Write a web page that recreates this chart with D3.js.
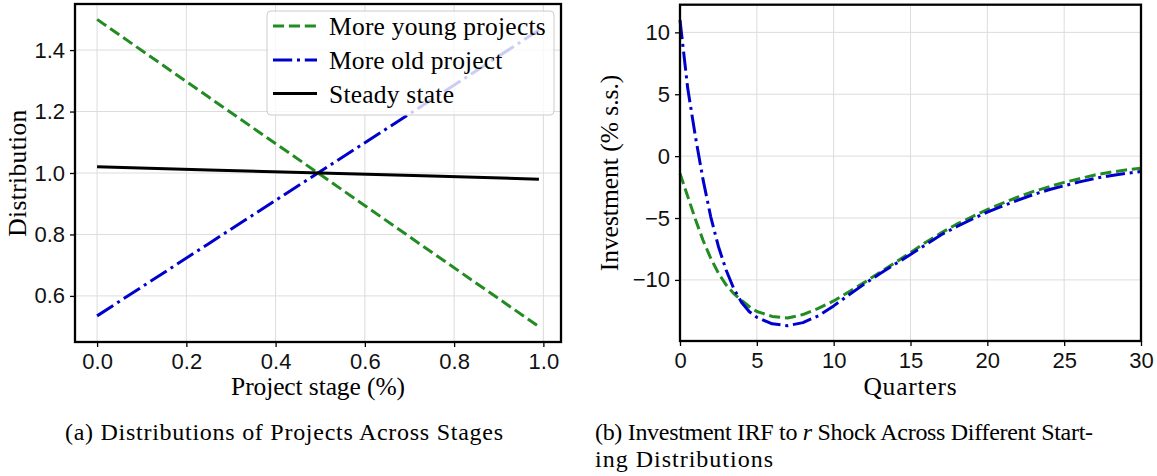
<!DOCTYPE html>
<html><head><meta charset="utf-8">
<script src="https://cdn.jsdelivr.net/npm/d3@7"></script>
<style>body{margin:0;background:#fff}svg{display:block}</style>
</head><body>
<svg id="c" width="1157" height="476"></svg>
<script>
// ---------- data ----------
const stageX = [0.0, 0.25, 0.5, 0.75, 0.99];
const youngDist = [1.50, 1.247, 0.995, 0.742, 0.50];
const oldDist = [0.535, 0.770, 1.005, 1.239, 1.465];
const steadyDist = [1.020, 1.010, 1.000, 0.990, 0.980];

const quarters = [0,0.5,1,1.5,2,2.5,3,3.5,4,4.5,5,6,7,8,9,10,11,12,13,14,15,16,17,18,19,20,21,22,23,24,25,26,27,28,29,30];
const irfYoung = [-1.4,-3.25,-5.1,-6.8,-8.25,-9.45,-10.4,-11.1,-11.65,-12.15,-12.55,
  -12.95,-13.08,-12.8,-12.3,-11.7,-10.95,-10.2,-9.4,-8.6,-7.8,-6.95,-6.2,-5.5,-4.9,-4.32,-3.8,-3.3,-2.85,-2.48,-2.12,-1.82,-1.52,-1.3,-1.12,-0.97];
const irfOld = [11.0,5.5,1.6,-1.9,-4.9,-7.3,-9.2,-10.7,-11.8,-12.55,-13.02,
  -13.55,-13.7,-13.45,-12.9,-12.1,-11.2,-10.33,-9.5,-8.72,-7.95,-7.15,-6.35,-5.7,-5.1,-4.53,-4.02,-3.55,-3.1,-2.72,-2.39,-2.08,-1.8,-1.58,-1.4,-1.24];

const xTicksA = [0, 0.2, 0.4, 0.6, 0.8, 1.0];
const yTicksA = [0.6, 0.8, 1.0, 1.2, 1.4];
const xTicksB = [0, 5, 10, 15, 20, 25, 30];
const yTicksB = [-10, -5, 0, 5, 10];
const legendLabels = ["More young projects", "More old project", "Steady state"];
const seriesColors = ["#228b22", "#0000cd", "#000000"];

// ---------- styles ----------
const LW = 3;
const dashStyles = [`${3.7*LW},${1.6*LW}`, `${6.4*LW},${1.6*LW},${1*LW},${1.6*LW}`, null];
const SANS = "'Liberation Sans', Arial, sans-serif";
const SERIF = "'Liberation Serif', 'Times New Roman', serif";
const SERIF_SIZE = 25.5;
const CAP_SIZE = 24;

const svg = d3.select("#c");

function pad(ext, f) { const s = ext[1]-ext[0]; return [ext[0]-s*f, ext[1]+s*f]; }
function fitWidth(t, target) {
  const n = t.text().length;
  const w = t.node().getComputedTextLength();
  if (n > 1) t.attr("letter-spacing", ((target - w) / (n - 1)).toFixed(3));
}

function panel(box, xs, ys, xTicks, yTicks, xFmt, yFmt) {
  const g = svg.append("g");
  g.append("g").selectAll("line").data(xTicks).join("line")
    .attr("x1", d => xs(d)).attr("x2", d => xs(d)).attr("y1", box.t).attr("y2", box.b)
    .attr("stroke", "#dcdcdc").attr("stroke-width", 1);
  g.append("g").selectAll("line").data(yTicks).join("line")
    .attr("y1", d => ys(d)).attr("y2", d => ys(d)).attr("x1", box.l).attr("x2", box.r)
    .attr("stroke", "#dcdcdc").attr("stroke-width", 1);
  const ax = g.append("g").attr("transform", `translate(0,${box.b})`)
    .call(d3.axisBottom(xs).tickValues(xTicks).tickFormat(xFmt).tickSize(5).tickPadding(6).tickSizeOuter(0));
  const ay = g.append("g").attr("transform", `translate(${box.l},0)`)
    .call(d3.axisLeft(ys).tickValues(yTicks).tickFormat(yFmt).tickSize(5).tickPadding(5).tickSizeOuter(0));
  [ax, ay].forEach(a => {
    a.select(".domain").remove();
    a.selectAll("line").attr("stroke", "#000").attr("stroke-width", 1.3);
    a.selectAll("text").attr("font-family", SANS).attr("font-size", 22).attr("fill", "#111");
  });
  return g;
}

function frame(box) {
  svg.append("rect").attr("x", box.l).attr("y", box.t).attr("width", box.r-box.l).attr("height", box.b-box.t)
    .attr("fill", "none").attr("stroke", "#000").attr("stroke-width", 2.3);
}

function drawLine(g, xs, ys, X, Y, i) {
  const line = d3.line().x((d, k) => xs(X[k])).y(d => ys(d));
  g.append("path").datum(Y).attr("d", line).attr("fill", "none")
    .attr("stroke", seriesColors[i]).attr("stroke-width", LW)
    .attr("stroke-dasharray", dashStyles[i]).attr("stroke-linejoin", "round");
}

// ---------- panel A ----------
const boxA = {l: 75, r: 561, t: 4, b: 342};
const xA = d3.scaleLinear(pad(d3.extent(stageX), 0.05), [boxA.l, boxA.r]);
const yA = d3.scaleLinear(pad(d3.extent([...youngDist, ...oldDist, ...steadyDist]), 0.05), [boxA.b, boxA.t]);
const gA = panel(boxA, xA, yA, xTicksA, yTicksA, d3.format(".1f"), d3.format(".1f"));
drawLine(gA, xA, yA, stageX, youngDist, 0);
drawLine(gA, xA, yA, stageX, oldDist, 1);
drawLine(gA, xA, yA, stageX, steadyDist, 2);
frame(boxA);

// legend
const lg = svg.append("g");
lg.append("rect").attr("x", 267).attr("y", 11).attr("width", 287).attr("height", 104).attr("rx", 4)
  .attr("fill", "#fff").attr("fill-opacity", 0.8).attr("stroke", "#cccccc").attr("stroke-width", 1);
const rowY = [26, 60, 93.5];
const legW = [216.7, 173.3, 125];
legendLabels.forEach((lab, i) => {
  lg.append("line").attr("x1", 273).attr("x2", 317).attr("y1", rowY[i]).attr("y2", rowY[i])
    .attr("stroke", seriesColors[i]).attr("stroke-width", LW).attr("stroke-dasharray", dashStyles[i]);
  const t = lg.append("text").attr("x", 329).attr("y", rowY[i] + 9).text(lab)
    .attr("font-family", SERIF).attr("font-size", SERIF_SIZE).attr("fill", "#000");
  fitWidth(t, legW[i]);
});

// ---------- panel B ----------
const boxB = {l: 680, r: 1141, t: 4.7, b: 341};
const xB = d3.scaleLinear([0, 30], [boxB.l, boxB.r]);
const yB = d3.scaleLinear(pad(d3.extent([...irfYoung, ...irfOld]), 0.05), [boxB.b, boxB.t]);
const gB = panel(boxB, xB, yB, xTicksB, yTicksB, d3.format("d"), d3.format("d"));
drawLine(gB, xB, yB, quarters, irfYoung, 0);
drawLine(gB, xB, yB, quarters, irfOld, 1);
frame(boxB);

// ---------- labels ----------
function label(x, y, txt, w, anchor, rot, size) {
  const t = svg.append("text").attr("x", x).attr("y", y).attr("text-anchor", anchor || "middle")
    .attr("font-family", SERIF).attr("font-size", size || SERIF_SIZE).attr("fill", "#000").text(txt);
  if (rot) t.attr("transform", `rotate(-90,${x},${y})`);
  fitWidth(t, w);
  return t;
}
label((boxA.l+boxA.r)/2, 395, "Project stage (%)", 174);
label(26, 173, "Distribution", 127, "middle", true);
label((boxB.l+boxB.r)/2, 395, "Quarters", 93.4);
label(618, 173, "Investment (% s.s.)", 196.7, "middle", true);

label(65, 439.5, "(a) Distributions of Projects Across Stages", 438, "start", false, CAP_SIZE);
const cb = svg.append("text").attr("x", 595).attr("y", 439.5).attr("font-family", SERIF)
  .attr("font-size", CAP_SIZE).attr("fill", "#000");
cb.append("tspan").text("(b) Investment IRF to ");
cb.append("tspan").attr("font-style", "italic").text("r");
cb.append("tspan").text(" Shock Across Different Start-");
fitWidth(cb, 498);
label(595, 466.5, "ing Distributions", 178, "start", false, CAP_SIZE);
</script>
</body></html>
